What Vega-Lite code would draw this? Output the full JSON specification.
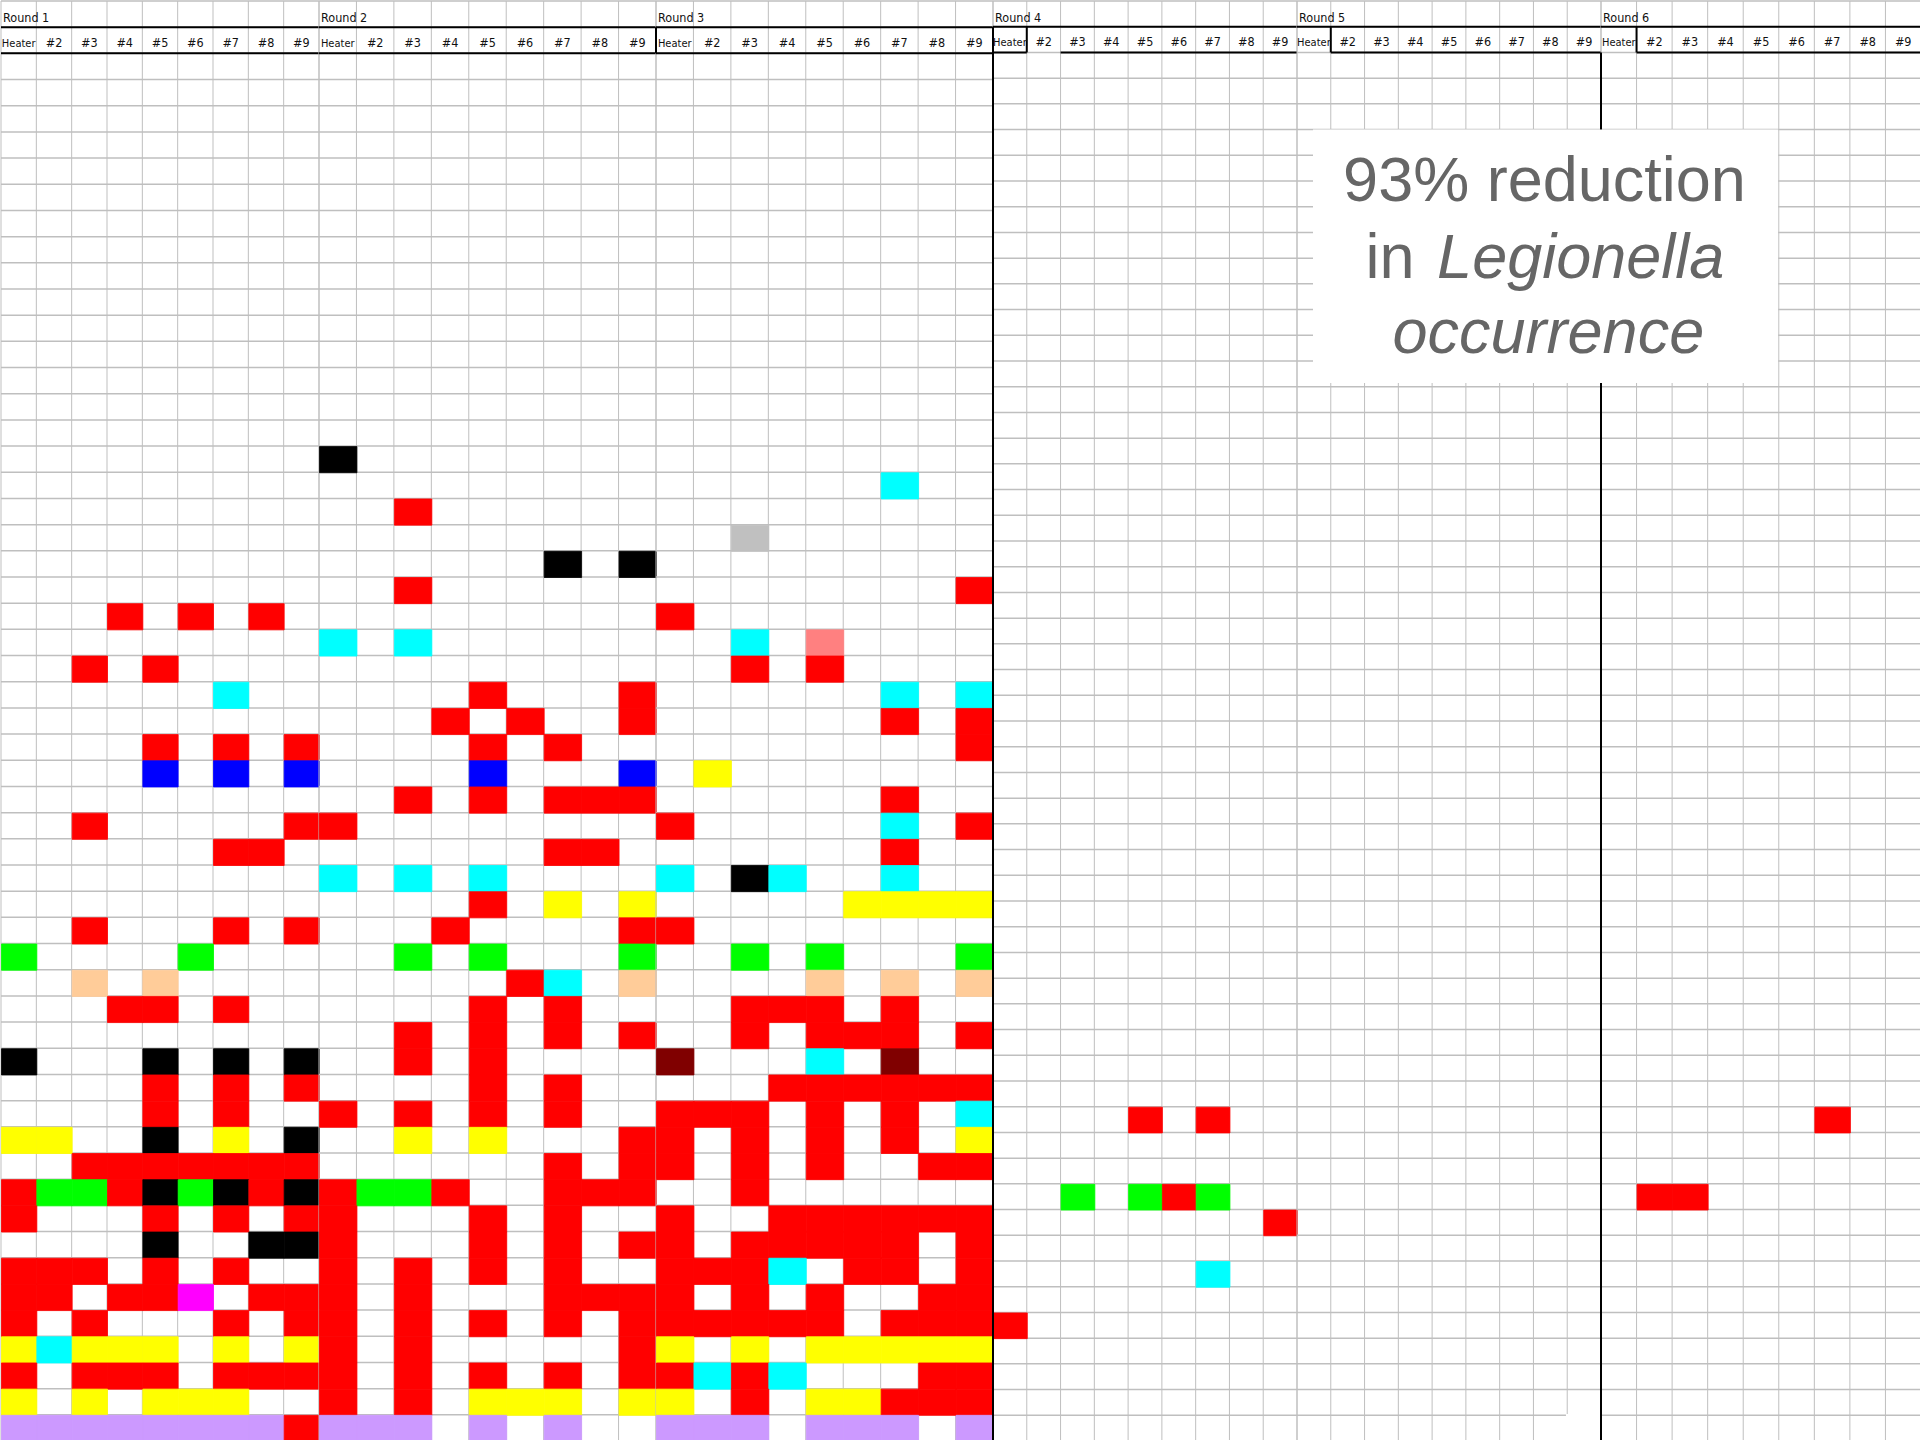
{
"$schema": "https://vega.github.io/schema/vega-lite/v6.json",
"padding": 0,
"autosize": {"type": "pad"},
"background": "white",
"spacing": 0,
"bounds": "flush",
"config": {"view": {"stroke": null}},
"datasets": {
"one": [{}],
"rows": [{"row":-1},{"row":0},{"row":1},{"row":2},{"row":3},{"row":4},{"row":5},{"row":6},{"row":7},{"row":8},{"row":9},{"row":10},{"row":11},{"row":12},{"row":13},{"row":14},{"row":15},{"row":16},{"row":17},{"row":18},{"row":19},{"row":20},{"row":21},{"row":22},{"row":23},{"row":24},{"row":25},{"row":26},{"row":27},{"row":28},{"row":29},{"row":30},{"row":31},{"row":32},{"row":33},{"row":34},{"row":35},{"row":36},{"row":37},{"row":38},{"row":39},{"row":40},{"row":41},{"row":42},{"row":43},{"row":44},{"row":45},{"row":46},{"row":47},{"row":48},{"row":49},{"row":50},{"row":51},{"row":52},{"row":53},{"row":54},{"row":55}],
"rounds": [{"round":1,"label":"Round 1"},{"round":2,"label":"Round 2"},{"round":3,"label":"Round 3"},{"round":4,"label":"Round 4"},{"round":5,"label":"Round 5"},{"round":6,"label":"Round 6"}],
"cols": [{"col":1,"label":"Heater"},{"col":2,"label":"#2"},{"col":3,"label":"#3"},{"col":4,"label":"#4"},{"col":5,"label":"#5"},{"col":6,"label":"#6"},{"col":7,"label":"#7"},{"col":8,"label":"#8"},{"col":9,"label":"#9"}],
"cells": [
{"round":1,"row":22,"col":4,"code":"red"},{"round":1,"row":22,"col":6,"code":"red"},{"round":1,"row":22,"col":8,"code":"red"},
{"round":1,"row":24,"col":3,"code":"red"},{"round":1,"row":24,"col":5,"code":"red"},
{"round":1,"row":25,"col":7,"code":"cyan"},
{"round":1,"row":27,"col":5,"code":"red"},{"round":1,"row":27,"col":7,"code":"red"},{"round":1,"row":27,"col":9,"code":"red"},
{"round":1,"row":28,"col":5,"code":"blue"},{"round":1,"row":28,"col":7,"code":"blue"},{"round":1,"row":28,"col":9,"code":"blue"},
{"round":1,"row":30,"col":3,"code":"red"},{"round":1,"row":30,"col":9,"code":"red"},
{"round":1,"row":31,"col":7,"code":"red"},{"round":1,"row":31,"col":8,"code":"red"},
{"round":1,"row":34,"col":3,"code":"red"},{"round":1,"row":34,"col":7,"code":"red"},{"round":1,"row":34,"col":9,"code":"red"},
{"round":1,"row":35,"col":1,"code":"green"},{"round":1,"row":35,"col":6,"code":"green"},
{"round":1,"row":36,"col":3,"code":"peach"},{"round":1,"row":36,"col":5,"code":"peach"},
{"round":1,"row":37,"col":4,"code":"red"},{"round":1,"row":37,"col":5,"code":"red"},{"round":1,"row":37,"col":7,"code":"red"},
{"round":1,"row":39,"col":1,"code":"black"},{"round":1,"row":39,"col":5,"code":"black"},{"round":1,"row":39,"col":7,"code":"black"},{"round":1,"row":39,"col":9,"code":"black"},
{"round":1,"row":40,"col":5,"code":"red"},{"round":1,"row":40,"col":7,"code":"red"},{"round":1,"row":40,"col":9,"code":"red"},
{"round":1,"row":41,"col":5,"code":"red"},{"round":1,"row":41,"col":7,"code":"red"},
{"round":1,"row":42,"col":1,"code":"yellow"},{"round":1,"row":42,"col":2,"code":"yellow"},{"round":1,"row":42,"col":5,"code":"black"},{"round":1,"row":42,"col":7,"code":"yellow"},{"round":1,"row":42,"col":9,"code":"black"},
{"round":1,"row":43,"col":3,"code":"red"},{"round":1,"row":43,"col":4,"code":"red"},{"round":1,"row":43,"col":5,"code":"red"},{"round":1,"row":43,"col":6,"code":"red"},{"round":1,"row":43,"col":7,"code":"red"},{"round":1,"row":43,"col":8,"code":"red"},{"round":1,"row":43,"col":9,"code":"red"},
{"round":1,"row":44,"col":1,"code":"red"},{"round":1,"row":44,"col":2,"code":"green"},{"round":1,"row":44,"col":3,"code":"green"},{"round":1,"row":44,"col":4,"code":"red"},{"round":1,"row":44,"col":5,"code":"black"},{"round":1,"row":44,"col":6,"code":"green"},{"round":1,"row":44,"col":7,"code":"black"},{"round":1,"row":44,"col":8,"code":"red"},{"round":1,"row":44,"col":9,"code":"black"},
{"round":1,"row":45,"col":1,"code":"red"},{"round":1,"row":45,"col":5,"code":"red"},{"round":1,"row":45,"col":7,"code":"red"},{"round":1,"row":45,"col":9,"code":"red"},
{"round":1,"row":46,"col":5,"code":"black"},{"round":1,"row":46,"col":8,"code":"black"},{"round":1,"row":46,"col":9,"code":"black"},
{"round":1,"row":47,"col":1,"code":"red"},{"round":1,"row":47,"col":2,"code":"red"},{"round":1,"row":47,"col":3,"code":"red"},{"round":1,"row":47,"col":5,"code":"red"},{"round":1,"row":47,"col":7,"code":"red"},
{"round":1,"row":48,"col":1,"code":"red"},{"round":1,"row":48,"col":2,"code":"red"},{"round":1,"row":48,"col":4,"code":"red"},{"round":1,"row":48,"col":5,"code":"red"},{"round":1,"row":48,"col":6,"code":"magenta"},{"round":1,"row":48,"col":8,"code":"red"},{"round":1,"row":48,"col":9,"code":"red"},
{"round":1,"row":49,"col":1,"code":"red"},{"round":1,"row":49,"col":3,"code":"red"},{"round":1,"row":49,"col":7,"code":"red"},{"round":1,"row":49,"col":9,"code":"red"},
{"round":1,"row":50,"col":1,"code":"yellow"},{"round":1,"row":50,"col":2,"code":"cyan"},{"round":1,"row":50,"col":3,"code":"yellow"},{"round":1,"row":50,"col":4,"code":"yellow"},{"round":1,"row":50,"col":5,"code":"yellow"},{"round":1,"row":50,"col":7,"code":"yellow"},{"round":1,"row":50,"col":9,"code":"yellow"},
{"round":1,"row":51,"col":1,"code":"red"},{"round":1,"row":51,"col":3,"code":"red"},{"round":1,"row":51,"col":4,"code":"red"},{"round":1,"row":51,"col":5,"code":"red"},{"round":1,"row":51,"col":7,"code":"red"},{"round":1,"row":51,"col":8,"code":"red"},{"round":1,"row":51,"col":9,"code":"red"},
{"round":1,"row":52,"col":1,"code":"yellow"},{"round":1,"row":52,"col":3,"code":"yellow"},{"round":1,"row":52,"col":5,"code":"yellow"},{"round":1,"row":52,"col":6,"code":"yellow"},{"round":1,"row":52,"col":7,"code":"yellow"},
{"round":1,"row":53,"col":1,"code":"lavender"},{"round":1,"row":53,"col":2,"code":"lavender"},{"round":1,"row":53,"col":3,"code":"lavender"},{"round":1,"row":53,"col":4,"code":"lavender"},{"round":1,"row":53,"col":5,"code":"lavender"},{"round":1,"row":53,"col":6,"code":"lavender"},{"round":1,"row":53,"col":7,"code":"lavender"},{"round":1,"row":53,"col":8,"code":"lavender"},{"round":1,"row":53,"col":9,"code":"red"},

{"round":2,"row":16,"col":1,"code":"black"},
{"round":2,"row":18,"col":3,"code":"red"},
{"round":2,"row":20,"col":7,"code":"black"},{"round":2,"row":20,"col":9,"code":"black"},
{"round":2,"row":21,"col":3,"code":"red"},
{"round":2,"row":23,"col":1,"code":"cyan"},{"round":2,"row":23,"col":3,"code":"cyan"},
{"round":2,"row":25,"col":5,"code":"red"},{"round":2,"row":25,"col":9,"code":"red"},
{"round":2,"row":26,"col":4,"code":"red"},{"round":2,"row":26,"col":6,"code":"red"},{"round":2,"row":26,"col":9,"code":"red"},
{"round":2,"row":27,"col":5,"code":"red"},{"round":2,"row":27,"col":7,"code":"red"},
{"round":2,"row":28,"col":5,"code":"blue"},{"round":2,"row":28,"col":9,"code":"blue"},
{"round":2,"row":29,"col":3,"code":"red"},{"round":2,"row":29,"col":5,"code":"red"},{"round":2,"row":29,"col":7,"code":"red"},{"round":2,"row":29,"col":8,"code":"red"},{"round":2,"row":29,"col":9,"code":"red"},
{"round":2,"row":30,"col":1,"code":"red"},
{"round":2,"row":31,"col":7,"code":"red"},{"round":2,"row":31,"col":8,"code":"red"},
{"round":2,"row":32,"col":1,"code":"cyan"},{"round":2,"row":32,"col":3,"code":"cyan"},{"round":2,"row":32,"col":5,"code":"cyan"},
{"round":2,"row":33,"col":5,"code":"red"},{"round":2,"row":33,"col":7,"code":"yellow"},{"round":2,"row":33,"col":9,"code":"yellow"},
{"round":2,"row":34,"col":4,"code":"red"},{"round":2,"row":34,"col":9,"code":"red"},
{"round":2,"row":35,"col":3,"code":"green"},{"round":2,"row":35,"col":5,"code":"green"},{"round":2,"row":35,"col":9,"code":"green"},
{"round":2,"row":36,"col":6,"code":"red"},{"round":2,"row":36,"col":7,"code":"cyan"},{"round":2,"row":36,"col":9,"code":"peach"},
{"round":2,"row":37,"col":5,"code":"red"},{"round":2,"row":37,"col":7,"code":"red"},
{"round":2,"row":38,"col":3,"code":"red"},{"round":2,"row":38,"col":5,"code":"red"},{"round":2,"row":38,"col":7,"code":"red"},{"round":2,"row":38,"col":9,"code":"red"},
{"round":2,"row":39,"col":3,"code":"red"},{"round":2,"row":39,"col":5,"code":"red"},
{"round":2,"row":40,"col":5,"code":"red"},{"round":2,"row":40,"col":7,"code":"red"},
{"round":2,"row":41,"col":1,"code":"red"},{"round":2,"row":41,"col":3,"code":"red"},{"round":2,"row":41,"col":5,"code":"red"},{"round":2,"row":41,"col":7,"code":"red"},
{"round":2,"row":42,"col":3,"code":"yellow"},{"round":2,"row":42,"col":5,"code":"yellow"},{"round":2,"row":42,"col":9,"code":"red"},
{"round":2,"row":43,"col":7,"code":"red"},{"round":2,"row":43,"col":9,"code":"red"},
{"round":2,"row":44,"col":1,"code":"red"},{"round":2,"row":44,"col":2,"code":"green"},{"round":2,"row":44,"col":3,"code":"green"},{"round":2,"row":44,"col":4,"code":"red"},{"round":2,"row":44,"col":7,"code":"red"},{"round":2,"row":44,"col":8,"code":"red"},{"round":2,"row":44,"col":9,"code":"red"},
{"round":2,"row":45,"col":1,"code":"red"},{"round":2,"row":45,"col":5,"code":"red"},{"round":2,"row":45,"col":7,"code":"red"},
{"round":2,"row":46,"col":1,"code":"red"},{"round":2,"row":46,"col":5,"code":"red"},{"round":2,"row":46,"col":7,"code":"red"},{"round":2,"row":46,"col":9,"code":"red"},
{"round":2,"row":47,"col":1,"code":"red"},{"round":2,"row":47,"col":3,"code":"red"},{"round":2,"row":47,"col":5,"code":"red"},{"round":2,"row":47,"col":7,"code":"red"},
{"round":2,"row":48,"col":1,"code":"red"},{"round":2,"row":48,"col":3,"code":"red"},{"round":2,"row":48,"col":7,"code":"red"},{"round":2,"row":48,"col":8,"code":"red"},{"round":2,"row":48,"col":9,"code":"red"},
{"round":2,"row":49,"col":1,"code":"red"},{"round":2,"row":49,"col":3,"code":"red"},{"round":2,"row":49,"col":5,"code":"red"},{"round":2,"row":49,"col":7,"code":"red"},{"round":2,"row":49,"col":9,"code":"red"},
{"round":2,"row":50,"col":1,"code":"red"},{"round":2,"row":50,"col":3,"code":"red"},{"round":2,"row":50,"col":9,"code":"red"},
{"round":2,"row":51,"col":1,"code":"red"},{"round":2,"row":51,"col":3,"code":"red"},{"round":2,"row":51,"col":5,"code":"red"},{"round":2,"row":51,"col":7,"code":"red"},{"round":2,"row":51,"col":9,"code":"red"},
{"round":2,"row":52,"col":1,"code":"red"},{"round":2,"row":52,"col":3,"code":"red"},{"round":2,"row":52,"col":5,"code":"yellow"},{"round":2,"row":52,"col":6,"code":"yellow"},{"round":2,"row":52,"col":7,"code":"yellow"},{"round":2,"row":52,"col":9,"code":"yellow"},
{"round":2,"row":53,"col":1,"code":"lavender"},{"round":2,"row":53,"col":2,"code":"lavender"},{"round":2,"row":53,"col":3,"code":"lavender"},{"round":2,"row":53,"col":5,"code":"lavender"},{"round":2,"row":53,"col":7,"code":"lavender"},

{"round":3,"row":17,"col":7,"code":"cyan"},
{"round":3,"row":19,"col":3,"code":"gray"},
{"round":3,"row":21,"col":9,"code":"red"},
{"round":3,"row":22,"col":1,"code":"red"},
{"round":3,"row":23,"col":3,"code":"cyan"},{"round":3,"row":23,"col":5,"code":"salmon"},
{"round":3,"row":24,"col":3,"code":"red"},{"round":3,"row":24,"col":5,"code":"red"},
{"round":3,"row":25,"col":7,"code":"cyan"},{"round":3,"row":25,"col":9,"code":"cyan"},
{"round":3,"row":26,"col":7,"code":"red"},{"round":3,"row":26,"col":9,"code":"red"},
{"round":3,"row":27,"col":9,"code":"red"},
{"round":3,"row":28,"col":2,"code":"yellow"},
{"round":3,"row":29,"col":7,"code":"red"},
{"round":3,"row":30,"col":1,"code":"red"},{"round":3,"row":30,"col":7,"code":"cyan"},{"round":3,"row":30,"col":9,"code":"red"},
{"round":3,"row":31,"col":7,"code":"red"},
{"round":3,"row":32,"col":1,"code":"cyan"},{"round":3,"row":32,"col":3,"code":"black"},{"round":3,"row":32,"col":4,"code":"cyan"},{"round":3,"row":32,"col":7,"code":"cyan"},
{"round":3,"row":33,"col":6,"code":"yellow"},{"round":3,"row":33,"col":7,"code":"yellow"},{"round":3,"row":33,"col":8,"code":"yellow"},{"round":3,"row":33,"col":9,"code":"yellow"},
{"round":3,"row":34,"col":1,"code":"red"},
{"round":3,"row":35,"col":3,"code":"green"},{"round":3,"row":35,"col":5,"code":"green"},{"round":3,"row":35,"col":9,"code":"green"},
{"round":3,"row":36,"col":5,"code":"peach"},{"round":3,"row":36,"col":7,"code":"peach"},{"round":3,"row":36,"col":9,"code":"peach"},
{"round":3,"row":37,"col":3,"code":"red"},{"round":3,"row":37,"col":4,"code":"red"},{"round":3,"row":37,"col":5,"code":"red"},{"round":3,"row":37,"col":7,"code":"red"},
{"round":3,"row":38,"col":3,"code":"red"},{"round":3,"row":38,"col":5,"code":"red"},{"round":3,"row":38,"col":6,"code":"red"},{"round":3,"row":38,"col":7,"code":"red"},{"round":3,"row":38,"col":9,"code":"red"},
{"round":3,"row":39,"col":1,"code":"darkred"},{"round":3,"row":39,"col":5,"code":"cyan"},{"round":3,"row":39,"col":7,"code":"darkred"},
{"round":3,"row":40,"col":4,"code":"red"},{"round":3,"row":40,"col":5,"code":"red"},{"round":3,"row":40,"col":6,"code":"red"},{"round":3,"row":40,"col":7,"code":"red"},{"round":3,"row":40,"col":8,"code":"red"},{"round":3,"row":40,"col":9,"code":"red"},
{"round":3,"row":41,"col":1,"code":"red"},{"round":3,"row":41,"col":2,"code":"red"},{"round":3,"row":41,"col":3,"code":"red"},{"round":3,"row":41,"col":5,"code":"red"},{"round":3,"row":41,"col":7,"code":"red"},{"round":3,"row":41,"col":9,"code":"cyan"},
{"round":3,"row":42,"col":1,"code":"red"},{"round":3,"row":42,"col":3,"code":"red"},{"round":3,"row":42,"col":5,"code":"red"},{"round":3,"row":42,"col":7,"code":"red"},{"round":3,"row":42,"col":9,"code":"yellow"},
{"round":3,"row":43,"col":1,"code":"red"},{"round":3,"row":43,"col":3,"code":"red"},{"round":3,"row":43,"col":5,"code":"red"},{"round":3,"row":43,"col":8,"code":"red"},{"round":3,"row":43,"col":9,"code":"red"},
{"round":3,"row":44,"col":3,"code":"red"},
{"round":3,"row":45,"col":1,"code":"red"},{"round":3,"row":45,"col":4,"code":"red"},{"round":3,"row":45,"col":5,"code":"red"},{"round":3,"row":45,"col":6,"code":"red"},{"round":3,"row":45,"col":7,"code":"red"},{"round":3,"row":45,"col":8,"code":"red"},{"round":3,"row":45,"col":9,"code":"red"},
{"round":3,"row":46,"col":1,"code":"red"},{"round":3,"row":46,"col":3,"code":"red"},{"round":3,"row":46,"col":4,"code":"red"},{"round":3,"row":46,"col":5,"code":"red"},{"round":3,"row":46,"col":6,"code":"red"},{"round":3,"row":46,"col":7,"code":"red"},{"round":3,"row":46,"col":9,"code":"red"},
{"round":3,"row":47,"col":1,"code":"red"},{"round":3,"row":47,"col":2,"code":"red"},{"round":3,"row":47,"col":3,"code":"red"},{"round":3,"row":47,"col":4,"code":"cyan"},{"round":3,"row":47,"col":6,"code":"red"},{"round":3,"row":47,"col":7,"code":"red"},{"round":3,"row":47,"col":9,"code":"red"},
{"round":3,"row":48,"col":1,"code":"red"},{"round":3,"row":48,"col":3,"code":"red"},{"round":3,"row":48,"col":5,"code":"red"},{"round":3,"row":48,"col":8,"code":"red"},{"round":3,"row":48,"col":9,"code":"red"},
{"round":3,"row":49,"col":1,"code":"red"},{"round":3,"row":49,"col":2,"code":"red"},{"round":3,"row":49,"col":3,"code":"red"},{"round":3,"row":49,"col":4,"code":"red"},{"round":3,"row":49,"col":5,"code":"red"},{"round":3,"row":49,"col":7,"code":"red"},{"round":3,"row":49,"col":8,"code":"red"},{"round":3,"row":49,"col":9,"code":"red"},
{"round":3,"row":50,"col":1,"code":"yellow"},{"round":3,"row":50,"col":3,"code":"yellow"},{"round":3,"row":50,"col":5,"code":"yellow"},{"round":3,"row":50,"col":6,"code":"yellow"},{"round":3,"row":50,"col":7,"code":"yellow"},{"round":3,"row":50,"col":8,"code":"yellow"},{"round":3,"row":50,"col":9,"code":"yellow"},
{"round":3,"row":51,"col":1,"code":"red"},{"round":3,"row":51,"col":2,"code":"cyan"},{"round":3,"row":51,"col":3,"code":"red"},{"round":3,"row":51,"col":4,"code":"cyan"},{"round":3,"row":51,"col":8,"code":"red"},{"round":3,"row":51,"col":9,"code":"red"},
{"round":3,"row":52,"col":1,"code":"yellow"},{"round":3,"row":52,"col":3,"code":"red"},{"round":3,"row":52,"col":5,"code":"yellow"},{"round":3,"row":52,"col":6,"code":"yellow"},{"round":3,"row":52,"col":7,"code":"red"},{"round":3,"row":52,"col":8,"code":"red"},{"round":3,"row":52,"col":9,"code":"red"},
{"round":3,"row":53,"col":1,"code":"lavender"},{"round":3,"row":53,"col":2,"code":"lavender"},{"round":3,"row":53,"col":3,"code":"lavender"},{"round":3,"row":53,"col":5,"code":"lavender"},{"round":3,"row":53,"col":6,"code":"lavender"},{"round":3,"row":53,"col":7,"code":"lavender"},{"round":3,"row":53,"col":9,"code":"lavender"},

{"round":4,"row":42,"col":5,"code":"red"},{"round":4,"row":42,"col":7,"code":"red"},
{"round":4,"row":45,"col":3,"code":"green"},{"round":4,"row":45,"col":5,"code":"green"},{"round":4,"row":45,"col":6,"code":"red"},{"round":4,"row":45,"col":7,"code":"green"},
{"round":4,"row":46,"col":9,"code":"red"},
{"round":4,"row":48,"col":7,"code":"cyan"},
{"round":4,"row":50,"col":1,"code":"red"},

{"round":6,"row":42,"col":7,"code":"red"},
{"round":6,"row":45,"col":2,"code":"red"},{"round":6,"row":45,"col":3,"code":"red"}
]
},
"hconcat": [
{"width": 318, "height": 1440, "layer": [
 {"data": {"name": "rows"}, "transform": [{"filter": "datum.row <= 54"}], "mark": {"type": "rule", "color": "#bfbfbf", "strokeWidth": 1.5}, "encoding": {"y": {"field": "row", "type": "quantitative", "scale": {"domain": [-1, 54], "reverse": true, "nice": false, "zero": false}, "axis": null}, "x": {"datum": 1, "type": "quantitative", "scale": {"domain": [1, 10], "nice": false, "zero": false}, "axis": null}, "x2": {"datum": 10}}},
 {"data": {"name": "cols"}, "mark": {"type": "rule", "color": "#bfbfbf", "strokeWidth": 1}, "encoding": {"x": {"field": "col", "type": "quantitative", "axis": null}, "y": {"datum": -1, "type": "quantitative", "axis": null}, "y2": {"datum": 54}}},
 {"data": {"name": "one"}, "mark": {"type": "rule", "color": "#bfbfbf", "strokeWidth": 1}, "encoding": {"x": {"datum": 10, "type": "quantitative", "axis": null}, "y": {"datum": -1, "type": "quantitative", "axis": null}, "y2": {"datum": 54}}},
 {"data": {"name": "cells"}, "transform": [{"filter": "datum.round == 1"}], "mark": {"type": "rect", "strokeWidth": 0.8},
  "encoding": {
   "x": {"field": "col", "type": "quantitative", "bin": {"step": 1, "extent": [1, 10]}, "axis": null},
   "y": {"field": "row", "type": "quantitative", "bin": {"step": 1, "extent": [-1, 54]}, "axis": null},
   "fill": {"field": "code", "type": "nominal", "scale": {"domain": ["red","cyan","black","blue","yellow","green","peach","magenta","darkred","gray","salmon","lavender"], "range": ["#ff0000","#00ffff","#000000","#0000ff","#ffff00","#00ff00","#ffcc99","#ff00ff","#800000","#c0c0c0","#ff8080","#cc99ff"]}, "legend": null},
   "stroke": {"field": "code", "type": "nominal", "scale": {"domain": ["red","cyan","black","blue","yellow","green","peach","magenta","darkred","gray","salmon","lavender"], "range": ["#ff0000","#00ffff","#000000","#0000ff","#ffff00","#00ff00","#ffcc99","#ff00ff","#800000","#c0c0c0","#ff8080","#cc99ff"]}, "legend": null}
  }},
 {"data": {"name": "one"}, "mark": {"type": "rule", "color": "#000000", "strokeWidth": 2}, "encoding": {"x": {"datum": 1, "type": "quantitative", "axis": null}, "x2": {"datum": 10}, "y": {"datum": 0, "type": "quantitative", "axis": null}}},
 {"data": {"name": "one"}, "mark": {"type": "rule", "color": "#000000", "strokeWidth": 2}, "encoding": {"x": {"datum": 1, "type": "quantitative", "axis": null}, "x2": {"datum": 10}, "y": {"datum": 1, "type": "quantitative", "axis": null}}},
 {"data": {"name": "rounds"}, "transform": [{"filter": "datum.round == 1"}], "mark": {"type": "text", "align": "left", "baseline": "alphabetic", "dx": 2, "font": "Liberation Sans Narrow, Arial Narrow, DejaVu Sans Condensed, sans-serif", "fontSize": 12.5, "fill": "#111111"},
  "encoding": {"x": {"datum": 1, "type": "quantitative", "axis": null}, "y": {"datum": -0.2, "type": "quantitative", "axis": null}, "text": {"field": "label"}}},
 {"data": {"name": "cols"}, "mark": {"type": "text", "align": "center", "baseline": "alphabetic", "font": "Liberation Sans Narrow, Arial Narrow, DejaVu Sans Condensed, sans-serif", "fill": "#111111"},
  "encoding": {"x": {"field": "col", "type": "quantitative", "bin": {"step": 1, "extent": [1, 10]}, "axis": null}, "y": {"datum": 0.76, "type": "quantitative", "axis": null}, "text": {"field": "label"}, "size": {"condition": {"test": "datum.col == 1", "value": 11}, "value": 12.5}}}
]},
{"width": 337, "height": 1440, "layer": [
 {"data": {"name": "rows"}, "transform": [{"filter": "datum.row <= 54"}], "mark": {"type": "rule", "color": "#bfbfbf", "strokeWidth": 1.5}, "encoding": {"y": {"field": "row", "type": "quantitative", "scale": {"domain": [-1, 54], "reverse": true, "nice": false, "zero": false}, "axis": null}, "x": {"datum": 1, "type": "quantitative", "scale": {"domain": [1, 10], "nice": false, "zero": false}, "axis": null}, "x2": {"datum": 10}}},
 {"data": {"name": "cols"}, "mark": {"type": "rule", "color": "#bfbfbf", "strokeWidth": 1}, "encoding": {"x": {"field": "col", "type": "quantitative", "axis": null}, "y": {"datum": -1, "type": "quantitative", "axis": null}, "y2": {"datum": 54}}},
 {"data": {"name": "one"}, "mark": {"type": "rule", "color": "#bfbfbf", "strokeWidth": 1}, "encoding": {"x": {"datum": 10, "type": "quantitative", "axis": null}, "y": {"datum": -1, "type": "quantitative", "axis": null}, "y2": {"datum": 54}}},
 {"data": {"name": "cells"}, "transform": [{"filter": "datum.round == 2"}], "mark": {"type": "rect", "strokeWidth": 0.8},
  "encoding": {
   "x": {"field": "col", "type": "quantitative", "bin": {"step": 1, "extent": [1, 10]}, "axis": null},
   "y": {"field": "row", "type": "quantitative", "bin": {"step": 1, "extent": [-1, 54]}, "axis": null},
   "fill": {"field": "code", "type": "nominal", "scale": {"domain": ["red","cyan","black","blue","yellow","green","peach","magenta","darkred","gray","salmon","lavender"], "range": ["#ff0000","#00ffff","#000000","#0000ff","#ffff00","#00ff00","#ffcc99","#ff00ff","#800000","#c0c0c0","#ff8080","#cc99ff"]}, "legend": null},
   "stroke": {"field": "code", "type": "nominal", "scale": {"domain": ["red","cyan","black","blue","yellow","green","peach","magenta","darkred","gray","salmon","lavender"], "range": ["#ff0000","#00ffff","#000000","#0000ff","#ffff00","#00ff00","#ffcc99","#ff00ff","#800000","#c0c0c0","#ff8080","#cc99ff"]}, "legend": null}
  }},
 {"data": {"name": "one"}, "mark": {"type": "rule", "color": "#000000", "strokeWidth": 2}, "encoding": {"x": {"datum": 1, "type": "quantitative", "axis": null}, "x2": {"datum": 10}, "y": {"datum": 0, "type": "quantitative", "axis": null}}},
 {"data": {"name": "one"}, "mark": {"type": "rule", "color": "#000000", "strokeWidth": 2}, "encoding": {"x": {"datum": 1, "type": "quantitative", "axis": null}, "x2": {"datum": 10}, "y": {"datum": 1, "type": "quantitative", "axis": null}}},
 {"data": {"name": "rounds"}, "transform": [{"filter": "datum.round == 2"}], "mark": {"type": "text", "align": "left", "baseline": "alphabetic", "dx": 2, "font": "Liberation Sans Narrow, Arial Narrow, DejaVu Sans Condensed, sans-serif", "fontSize": 12.5, "fill": "#111111"},
  "encoding": {"x": {"datum": 1, "type": "quantitative", "axis": null}, "y": {"datum": -0.2, "type": "quantitative", "axis": null}, "text": {"field": "label"}}},
 {"data": {"name": "cols"}, "mark": {"type": "text", "align": "center", "baseline": "alphabetic", "font": "Liberation Sans Narrow, Arial Narrow, DejaVu Sans Condensed, sans-serif", "fill": "#111111"},
  "encoding": {"x": {"field": "col", "type": "quantitative", "bin": {"step": 1, "extent": [1, 10]}, "axis": null}, "y": {"datum": 0.76, "type": "quantitative", "axis": null}, "text": {"field": "label"}, "size": {"condition": {"test": "datum.col == 1", "value": 11}, "value": 12.5}}}
]},
{"width": 337, "height": 1440, "layer": [
 {"data": {"name": "rows"}, "transform": [{"filter": "datum.row <= 54"}], "mark": {"type": "rule", "color": "#bfbfbf", "strokeWidth": 1.5}, "encoding": {"y": {"field": "row", "type": "quantitative", "scale": {"domain": [-1, 54], "reverse": true, "nice": false, "zero": false}, "axis": null}, "x": {"datum": 1, "type": "quantitative", "scale": {"domain": [1, 10], "nice": false, "zero": false}, "axis": null}, "x2": {"datum": 10}}},
 {"data": {"name": "cols"}, "mark": {"type": "rule", "color": "#bfbfbf", "strokeWidth": 1}, "encoding": {"x": {"field": "col", "type": "quantitative", "axis": null}, "y": {"datum": -1, "type": "quantitative", "axis": null}, "y2": {"datum": 54}}},
 {"data": {"name": "one"}, "mark": {"type": "rule", "color": "#bfbfbf", "strokeWidth": 1}, "encoding": {"x": {"datum": 10, "type": "quantitative", "axis": null}, "y": {"datum": -1, "type": "quantitative", "axis": null}, "y2": {"datum": 54}}},
 {"data": {"name": "cells"}, "transform": [{"filter": "datum.round == 3"}], "mark": {"type": "rect", "strokeWidth": 0.8},
  "encoding": {
   "x": {"field": "col", "type": "quantitative", "bin": {"step": 1, "extent": [1, 10]}, "axis": null},
   "y": {"field": "row", "type": "quantitative", "bin": {"step": 1, "extent": [-1, 54]}, "axis": null},
   "fill": {"field": "code", "type": "nominal", "scale": {"domain": ["red","cyan","black","blue","yellow","green","peach","magenta","darkred","gray","salmon","lavender"], "range": ["#ff0000","#00ffff","#000000","#0000ff","#ffff00","#00ff00","#ffcc99","#ff00ff","#800000","#c0c0c0","#ff8080","#cc99ff"]}, "legend": null},
   "stroke": {"field": "code", "type": "nominal", "scale": {"domain": ["red","cyan","black","blue","yellow","green","peach","magenta","darkred","gray","salmon","lavender"], "range": ["#ff0000","#00ffff","#000000","#0000ff","#ffff00","#00ff00","#ffcc99","#ff00ff","#800000","#c0c0c0","#ff8080","#cc99ff"]}, "legend": null}
  }},
 {"data": {"name": "one"}, "mark": {"type": "rule", "color": "#000000", "strokeWidth": 2}, "encoding": {"x": {"datum": 1, "type": "quantitative", "axis": null}, "x2": {"datum": 10}, "y": {"datum": 0, "type": "quantitative", "axis": null}}},
 {"data": {"name": "one"}, "mark": {"type": "rule", "color": "#000000", "strokeWidth": 2}, "encoding": {"x": {"datum": 1, "type": "quantitative", "axis": null}, "x2": {"datum": 10}, "y": {"datum": 1, "type": "quantitative", "axis": null}}},
 {"data": {"name": "one"}, "mark": {"type": "rule", "color": "#000000", "strokeWidth": 2}, "encoding": {"x": {"datum": 1, "type": "quantitative", "axis": null}, "y": {"datum": 0, "type": "quantitative", "axis": null}, "y2": {"datum": 1}}},
 {"data": {"name": "rounds"}, "transform": [{"filter": "datum.round == 3"}], "mark": {"type": "text", "align": "left", "baseline": "alphabetic", "dx": 2, "font": "Liberation Sans Narrow, Arial Narrow, DejaVu Sans Condensed, sans-serif", "fontSize": 12.5, "fill": "#111111"},
  "encoding": {"x": {"datum": 1, "type": "quantitative", "axis": null}, "y": {"datum": -0.2, "type": "quantitative", "axis": null}, "text": {"field": "label"}}},
 {"data": {"name": "cols"}, "mark": {"type": "text", "align": "center", "baseline": "alphabetic", "font": "Liberation Sans Narrow, Arial Narrow, DejaVu Sans Condensed, sans-serif", "fill": "#111111"},
  "encoding": {"x": {"field": "col", "type": "quantitative", "bin": {"step": 1, "extent": [1, 10]}, "axis": null}, "y": {"datum": 0.76, "type": "quantitative", "axis": null}, "text": {"field": "label"}, "size": {"condition": {"test": "datum.col == 1", "value": 11}, "value": 12.5}}}
]},
{"width": 304, "height": 1440, "layer": [
 {"data": {"name": "rows"}, "mark": {"type": "rule", "color": "#bfbfbf", "strokeWidth": 1.5}, "encoding": {"y": {"field": "row", "type": "quantitative", "scale": {"domain": [-1, 55], "reverse": true, "nice": false, "zero": false}, "axis": null}, "x": {"datum": 1, "type": "quantitative", "scale": {"domain": [1, 10], "nice": false, "zero": false}, "axis": null}, "x2": {"datum": 10}}},
 {"data": {"name": "cols"}, "mark": {"type": "rule", "color": "#bfbfbf", "strokeWidth": 1}, "encoding": {"x": {"field": "col", "type": "quantitative", "axis": null}, "y": {"datum": -1, "type": "quantitative", "axis": null}, "y2": {"datum": 55}}},
 {"data": {"name": "one"}, "mark": {"type": "rule", "color": "#bfbfbf", "strokeWidth": 1}, "encoding": {"x": {"datum": 10, "type": "quantitative", "axis": null}, "y": {"datum": -1, "type": "quantitative", "axis": null}, "y2": {"datum": 55}}},
 {"data": {"name": "cells"}, "transform": [{"filter": "datum.round == 4"}], "mark": {"type": "rect", "strokeWidth": 0.8},
  "encoding": {
   "x": {"field": "col", "type": "quantitative", "bin": {"step": 1, "extent": [1, 10]}, "axis": null},
   "y": {"field": "row", "type": "quantitative", "bin": {"step": 1, "extent": [-1, 55]}, "axis": null},
   "fill": {"field": "code", "type": "nominal", "scale": {"domain": ["red","cyan","black","blue","yellow","green","peach","magenta","darkred","gray","salmon","lavender"], "range": ["#ff0000","#00ffff","#000000","#0000ff","#ffff00","#00ff00","#ffcc99","#ff00ff","#800000","#c0c0c0","#ff8080","#cc99ff"]}, "legend": null},
   "stroke": {"field": "code", "type": "nominal", "scale": {"domain": ["red","cyan","black","blue","yellow","green","peach","magenta","darkred","gray","salmon","lavender"], "range": ["#ff0000","#00ffff","#000000","#0000ff","#ffff00","#00ff00","#ffcc99","#ff00ff","#800000","#c0c0c0","#ff8080","#cc99ff"]}, "legend": null}
  }},
 {"data": {"name": "one"}, "mark": {"type": "rule", "color": "#000000", "strokeWidth": 2}, "encoding": {"x": {"datum": 1, "type": "quantitative", "axis": null}, "x2": {"datum": 10}, "y": {"datum": 0, "type": "quantitative", "axis": null}}},
 {"data": {"name": "one"}, "mark": {"type": "rule", "color": "#000000", "strokeWidth": 2}, "encoding": {"x": {"datum": 1, "type": "quantitative", "axis": null}, "x2": {"datum": 2}, "y": {"datum": 1, "type": "quantitative", "axis": null}}},
 {"data": {"name": "one"}, "mark": {"type": "rule", "color": "#000000", "strokeWidth": 2}, "encoding": {"x": {"datum": 3, "type": "quantitative", "axis": null}, "x2": {"datum": 10}, "y": {"datum": 1, "type": "quantitative", "axis": null}}},
 {"data": {"name": "one"}, "mark": {"type": "rule", "color": "#000000", "strokeWidth": 2}, "encoding": {"x": {"datum": 2, "type": "quantitative", "axis": null}, "y": {"datum": 0, "type": "quantitative", "axis": null}, "y2": {"datum": 1}}},
 {"data": {"name": "one"}, "mark": {"type": "rule", "color": "#000000", "strokeWidth": 2}, "encoding": {"x": {"datum": 1, "type": "quantitative", "axis": null}, "y": {"datum": 0, "type": "quantitative", "axis": null}, "y2": {"datum": 55}}},
 {"data": {"name": "one"}, "mark": {"type": "rule", "color": "#000000", "strokeWidth": 2}, "encoding": {"x": {"datum": 1, "type": "quantitative", "axis": null}, "x2": {"datum": 2}, "y": {"datum": 55, "type": "quantitative", "axis": null}}},
 {"data": {"name": "rounds"}, "transform": [{"filter": "datum.round == 4"}], "mark": {"type": "text", "align": "left", "baseline": "alphabetic", "dx": 2, "font": "Liberation Sans Narrow, Arial Narrow, DejaVu Sans Condensed, sans-serif", "fontSize": 12.5, "fill": "#111111"},
  "encoding": {"x": {"datum": 1, "type": "quantitative", "axis": null}, "y": {"datum": -0.2, "type": "quantitative", "axis": null}, "text": {"field": "label"}}},
 {"data": {"name": "cols"}, "mark": {"type": "text", "align": "center", "baseline": "alphabetic", "font": "Liberation Sans Narrow, Arial Narrow, DejaVu Sans Condensed, sans-serif", "fill": "#111111"},
  "encoding": {"x": {"field": "col", "type": "quantitative", "bin": {"step": 1, "extent": [1, 10]}, "axis": null}, "y": {"datum": 0.76, "type": "quantitative", "axis": null}, "text": {"field": "label"}, "size": {"condition": {"test": "datum.col == 1", "value": 11}, "value": 12.5}}}
]},
{"width": 304, "height": 1440, "layer": [
 {"data": {"name": "rows"}, "mark": {"type": "rule", "color": "#bfbfbf", "strokeWidth": 1.5}, "encoding": {"y": {"field": "row", "type": "quantitative", "scale": {"domain": [-1, 55], "reverse": true, "nice": false, "zero": false}, "axis": null}, "x": {"datum": 1, "type": "quantitative", "scale": {"domain": [1, 10], "nice": false, "zero": false}, "axis": null}, "x2": {"datum": 10}}},
 {"data": {"name": "cols"}, "mark": {"type": "rule", "color": "#bfbfbf", "strokeWidth": 1}, "encoding": {"x": {"field": "col", "type": "quantitative", "axis": null}, "y": {"datum": -1, "type": "quantitative", "axis": null}, "y2": {"datum": 55}}},
 {"data": {"name": "one"}, "mark": {"type": "rule", "color": "#bfbfbf", "strokeWidth": 1}, "encoding": {"x": {"datum": 10, "type": "quantitative", "axis": null}, "y": {"datum": -1, "type": "quantitative", "axis": null}, "y2": {"datum": 55}}},
 {"data": {"name": "cells"}, "transform": [{"filter": "datum.round == 5"}], "mark": {"type": "rect", "strokeWidth": 0.8},
  "encoding": {
   "x": {"field": "col", "type": "quantitative", "bin": {"step": 1, "extent": [1, 10]}, "axis": null},
   "y": {"field": "row", "type": "quantitative", "bin": {"step": 1, "extent": [-1, 55]}, "axis": null},
   "fill": {"field": "code", "type": "nominal", "scale": {"domain": ["red","cyan","black","blue","yellow","green","peach","magenta","darkred","gray","salmon","lavender"], "range": ["#ff0000","#00ffff","#000000","#0000ff","#ffff00","#00ff00","#ffcc99","#ff00ff","#800000","#c0c0c0","#ff8080","#cc99ff"]}, "legend": null},
   "stroke": {"field": "code", "type": "nominal", "scale": {"domain": ["red","cyan","black","blue","yellow","green","peach","magenta","darkred","gray","salmon","lavender"], "range": ["#ff0000","#00ffff","#000000","#0000ff","#ffff00","#00ff00","#ffcc99","#ff00ff","#800000","#c0c0c0","#ff8080","#cc99ff"]}, "legend": null}
  }},
 {"data": {"name": "one"}, "mark": {"type": "rect", "fill": "#ffffff", "stroke": "#ffffff", "strokeWidth": 2.5}, "encoding": {"x": {"datum": 9, "type": "quantitative", "axis": null}, "x2": {"datum": 10}, "y": {"datum": 54, "type": "quantitative", "axis": null}, "y2": {"datum": 55}}},
 {"data": {"name": "one"}, "mark": {"type": "rule", "color": "#000000", "strokeWidth": 2}, "encoding": {"x": {"datum": 1, "type": "quantitative", "axis": null}, "x2": {"datum": 10}, "y": {"datum": 0, "type": "quantitative", "axis": null}}},
 {"data": {"name": "one"}, "mark": {"type": "rule", "color": "#000000", "strokeWidth": 2}, "encoding": {"x": {"datum": 2, "type": "quantitative", "axis": null}, "x2": {"datum": 10}, "y": {"datum": 1, "type": "quantitative", "axis": null}}},
 {"data": {"name": "one"}, "mark": {"type": "rule", "color": "#000000", "strokeWidth": 2}, "encoding": {"x": {"datum": 2, "type": "quantitative", "axis": null}, "y": {"datum": 0, "type": "quantitative", "axis": null}, "y2": {"datum": 1}}},
 {"data": {"name": "rounds"}, "transform": [{"filter": "datum.round == 5"}], "mark": {"type": "text", "align": "left", "baseline": "alphabetic", "dx": 2, "font": "Liberation Sans Narrow, Arial Narrow, DejaVu Sans Condensed, sans-serif", "fontSize": 12.5, "fill": "#111111"},
  "encoding": {"x": {"datum": 1, "type": "quantitative", "axis": null}, "y": {"datum": -0.2, "type": "quantitative", "axis": null}, "text": {"field": "label"}}},
 {"data": {"name": "cols"}, "mark": {"type": "text", "align": "center", "baseline": "alphabetic", "font": "Liberation Sans Narrow, Arial Narrow, DejaVu Sans Condensed, sans-serif", "fill": "#111111"},
  "encoding": {"x": {"field": "col", "type": "quantitative", "bin": {"step": 1, "extent": [1, 10]}, "axis": null}, "y": {"datum": 0.76, "type": "quantitative", "axis": null}, "text": {"field": "label"}, "size": {"condition": {"test": "datum.col == 1", "value": 11}, "value": 12.5}}}
]},
{"width": 320, "height": 1440, "layer": [
 {"data": {"name": "rows"}, "mark": {"type": "rule", "color": "#bfbfbf", "strokeWidth": 1.5}, "encoding": {"y": {"field": "row", "type": "quantitative", "scale": {"domain": [-1, 55], "reverse": true, "nice": false, "zero": false}, "axis": null}, "x": {"datum": 1, "type": "quantitative", "scale": {"domain": [1, 10], "nice": false, "zero": false}, "axis": null}, "x2": {"datum": 10}}},
 {"data": {"name": "cols"}, "mark": {"type": "rule", "color": "#bfbfbf", "strokeWidth": 1}, "encoding": {"x": {"field": "col", "type": "quantitative", "axis": null}, "y": {"datum": -1, "type": "quantitative", "axis": null}, "y2": {"datum": 55}}},
 {"data": {"name": "one"}, "mark": {"type": "rule", "color": "#bfbfbf", "strokeWidth": 1}, "encoding": {"x": {"datum": 10, "type": "quantitative", "axis": null}, "y": {"datum": -1, "type": "quantitative", "axis": null}, "y2": {"datum": 55}}},
 {"data": {"name": "cells"}, "transform": [{"filter": "datum.round == 6"}], "mark": {"type": "rect", "strokeWidth": 0.8},
  "encoding": {
   "x": {"field": "col", "type": "quantitative", "bin": {"step": 1, "extent": [1, 10]}, "axis": null},
   "y": {"field": "row", "type": "quantitative", "bin": {"step": 1, "extent": [-1, 55]}, "axis": null},
   "fill": {"field": "code", "type": "nominal", "scale": {"domain": ["red","cyan","black","blue","yellow","green","peach","magenta","darkred","gray","salmon","lavender"], "range": ["#ff0000","#00ffff","#000000","#0000ff","#ffff00","#00ff00","#ffcc99","#ff00ff","#800000","#c0c0c0","#ff8080","#cc99ff"]}, "legend": null},
   "stroke": {"field": "code", "type": "nominal", "scale": {"domain": ["red","cyan","black","blue","yellow","green","peach","magenta","darkred","gray","salmon","lavender"], "range": ["#ff0000","#00ffff","#000000","#0000ff","#ffff00","#00ff00","#ffcc99","#ff00ff","#800000","#c0c0c0","#ff8080","#cc99ff"]}, "legend": null}
  }},
 {"data": {"name": "one"}, "mark": {"type": "rule", "color": "#000000", "strokeWidth": 2}, "encoding": {"x": {"datum": 1, "type": "quantitative", "axis": null}, "x2": {"datum": 10}, "y": {"datum": 0, "type": "quantitative", "axis": null}}},
 {"data": {"name": "one"}, "mark": {"type": "rule", "color": "#000000", "strokeWidth": 2}, "encoding": {"x": {"datum": 2, "type": "quantitative", "axis": null}, "x2": {"datum": 10}, "y": {"datum": 1, "type": "quantitative", "axis": null}}},
 {"data": {"name": "one"}, "mark": {"type": "rule", "color": "#000000", "strokeWidth": 2}, "encoding": {"x": {"datum": 2, "type": "quantitative", "axis": null}, "y": {"datum": 0, "type": "quantitative", "axis": null}, "y2": {"datum": 1}}},
 {"data": {"name": "one"}, "mark": {"type": "rule", "color": "#000000", "strokeWidth": 2}, "encoding": {"x": {"datum": 1, "type": "quantitative", "axis": null}, "y": {"datum": 1, "type": "quantitative", "axis": null}, "y2": {"datum": 55}}},
 {"data": {"name": "rounds"}, "transform": [{"filter": "datum.round == 6"}], "mark": {"type": "text", "align": "left", "baseline": "alphabetic", "dx": 2, "font": "Liberation Sans Narrow, Arial Narrow, DejaVu Sans Condensed, sans-serif", "fontSize": 12.5, "fill": "#111111"},
  "encoding": {"x": {"datum": 1, "type": "quantitative", "axis": null}, "y": {"datum": -0.2, "type": "quantitative", "axis": null}, "text": {"field": "label"}}},
 {"data": {"name": "cols"}, "mark": {"type": "text", "align": "center", "baseline": "alphabetic", "font": "Liberation Sans Narrow, Arial Narrow, DejaVu Sans Condensed, sans-serif", "fill": "#111111"},
  "encoding": {"x": {"field": "col", "type": "quantitative", "bin": {"step": 1, "extent": [1, 10]}, "axis": null}, "y": {"datum": 0.76, "type": "quantitative", "axis": null}, "text": {"field": "label"}, "size": {"condition": {"test": "datum.col == 1", "value": 11}, "value": 12.5}}},
 {"data": {"name": "one"}, "mark": {"type": "rect", "fill": "#ffffff", "clip": false}, "encoding": {"x": {"datum": -7.1, "type": "quantitative", "axis": null}, "x2": {"datum": 5.98}, "y": {"datum": 4.0, "type": "quantitative", "axis": null}, "y2": {"datum": 13.86}}},
 {"data": {"name": "one"}, "mark": {"type": "text", "text": "93% reduction", "align": "center", "baseline": "alphabetic", "font": "Liberation Sans", "fontSize": 63, "fill": "#666666"}, "encoding": {"x": {"datum": -0.59, "type": "quantitative", "axis": null}, "y": {"datum": 6.78, "type": "quantitative", "axis": null}}},
 {"data": {"name": "one"}, "mark": {"type": "text", "text": "in", "align": "left", "baseline": "alphabetic", "font": "Liberation Sans", "fontSize": 63, "fill": "#666666"}, "encoding": {"x": {"datum": -5.62, "type": "quantitative", "axis": null}, "y": {"datum": 9.76, "type": "quantitative", "axis": null}}},
 {"data": {"name": "one"}, "mark": {"type": "text", "text": "Legionella", "align": "left", "baseline": "alphabetic", "font": "Liberation Sans", "fontStyle": "italic", "fontSize": 63, "fill": "#666666"}, "encoding": {"x": {"datum": -3.61, "type": "quantitative", "axis": null}, "y": {"datum": 9.76, "type": "quantitative", "axis": null}}},
 {"data": {"name": "one"}, "mark": {"type": "text", "text": "occurrence", "align": "center", "baseline": "alphabetic", "font": "Liberation Sans", "fontStyle": "italic", "fontSize": 63, "fill": "#666666"}, "encoding": {"x": {"datum": -0.48, "type": "quantitative", "axis": null}, "y": {"datum": 12.68, "type": "quantitative", "axis": null}}}
]}
]
}
